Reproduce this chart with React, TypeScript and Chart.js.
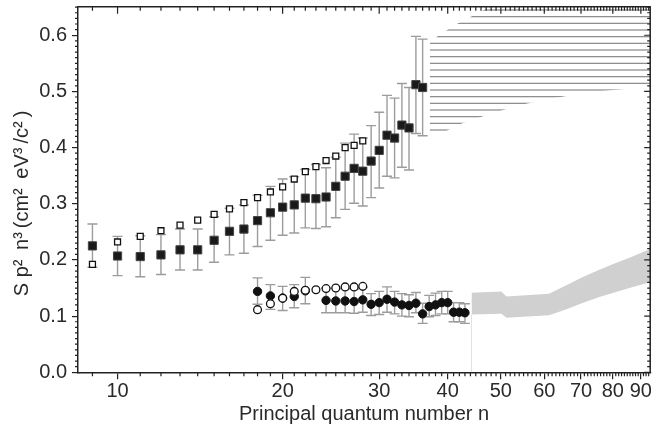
import React, { useEffect, useRef } from 'react';
import { Chart, registerables } from 'chart.js';

Chart.register(...registerables);

const FONT = 'Liberation Sans, Arial, Helvetica, sans-serif';

// Axis ticks
const xTickValues = [10, 20, 30, 40, 50, 60, 70, 80, 90];
const yTickValues = [0, 0.1, 0.2, 0.3, 0.4, 0.5, 0.6];
const xTitle = 'Principal quantum number n';
const yTitle = 'S p\u00B2\u2009 n\u00B3\u2009(cm\u00B2\u2009 eV\u00B3\u2009/c\u00B2\u2009)     ';

// Filled squares with error bars
const nSquares = [9, 10, 11, 12, 13, 14, 15, 16, 17, 18, 19, 20, 21, 22, 23, 24, 25, 26, 27, 28, 29, 30, 31, 32, 33, 34, 35, 36];
const filledSquares = [0.225, 0.207, 0.206, 0.209, 0.218, 0.218, 0.235, 0.251, 0.255, 0.270, 0.284, 0.294, 0.298, 0.310, 0.309, 0.312, 0.331, 0.349, 0.363, 0.358, 0.376, 0.395, 0.422, 0.417, 0.440, 0.435, 0.512, 0.507];
const filledSquaresHigh = [0.264, 0.242, 0.243, 0.245, 0.255, 0.255, 0.277, 0.292, 0.298, 0.315, 0.331, 0.344, 0.348, 0.361, 0.370, 0.364, 0.383, 0.408, 0.424, 0.417, 0.439, 0.463, 0.493, 0.488, 0.514, 0.507, 0.598, 0.593];
const filledSquaresLow = [0.187, 0.172, 0.170, 0.174, 0.182, 0.182, 0.196, 0.209, 0.212, 0.224, 0.235, 0.244, 0.248, 0.257, 0.256, 0.259, 0.275, 0.290, 0.301, 0.296, 0.311, 0.328, 0.349, 0.346, 0.365, 0.360, 0.425, 0.421];

// Open squares
const nOpenSquares = [9, 10, 11, 12, 13, 14, 15, 16, 17, 18, 19, 20, 21, 22, 23, 24, 25, 26, 27, 28];
const openSquares = [0.192, 0.232, 0.242, 0.252, 0.262, 0.271, 0.281, 0.291, 0.302, 0.311, 0.321, 0.330, 0.344, 0.357, 0.366, 0.377, 0.385, 0.400, 0.404, 0.412];

// Filled circles with error bars
const nCircles = [18, 19, 20, 21, 22, 23, 24, 25, 26, 27, 28, 29, 30, 31, 32, 33, 34, 35, 36, 37, 38, 39, 40, 41, 42, 43];
const filledCircles = [0.144, 0.136, 0.132, 0.135, 0.145, null, 0.128, 0.127, 0.127, 0.126, 0.129, 0.121, 0.124, 0.130, 0.125, 0.120, 0.119, 0.123, 0.104, 0.117, 0.120, 0.124, 0.124, 0.107, 0.107, 0.106];
const filledCirclesHigh = [0.168, 0.156, 0.153, 0.156, 0.169, null, 0.150, 0.149, 0.149, 0.148, 0.151, 0.140, 0.144, 0.152, 0.144, 0.140, 0.138, 0.142, 0.123, 0.137, 0.141, 0.144, 0.144, 0.124, 0.124, 0.122];
const filledCirclesLow = [0.121, 0.112, 0.110, 0.115, 0.122, null, 0.106, 0.106, 0.106, 0.105, 0.107, 0.101, 0.103, 0.107, 0.104, 0.100, 0.099, 0.106, 0.087, 0.099, 0.101, 0.104, 0.104, 0.090, 0.090, 0.087];

// Open circles
const nOpenCircles = [18, 19, 20, 21, 22, 23, 24, 25, 26, 27, 28];
const openCircles = [0.1115, 0.122, 0.132, 0.144, 0.146, 0.147, 0.149, 0.150, 0.152, 0.152, 0.153];

// Hatched theory region (upper / lower boundaries)
const hatchUpperN = [37.1, 37.8, 39.5, 41.2, 43.3, 45.7, 50, 60, 75, 93.6];
const hatchUpper = [0.586, 0.594, 0.606, 0.618, 0.629, 0.641, 0.661, 0.69, 0.72, 0.75];
const hatchLowerN = [37.1, 39.6, 41.8, 45.2, 49.4, 54.5, 62.1, 73.8, 93.6];
const hatchLower = [0.4235, 0.4288, 0.4407, 0.4524, 0.4642, 0.4761, 0.4878, 0.4996, 0.5085];

// Grey theory band
const bandN = [44.2, 50.1, 51.2, 61.2, 65.7, 70.4, 75.4, 80.8, 86.7, 93.6];
const bandTop = [0.1416, 0.1439, 0.1350, 0.1398, 0.1545, 0.1692, 0.1823, 0.1940, 0.2058, 0.2195];
const bandBottom = [0.1027, 0.1044, 0.0973, 0.1014, 0.1120, 0.1232, 0.1338, 0.1427, 0.1515, 0.1604];

// Faint vertical marker under the band start
const markerN = [44.2, 44.2];
const markerY = [0, 0.1027];

const pts = (xs: number[], ys: (number | null)[]) => xs.map((x, i) => ({ x, y: ys[i] }));

const errorBarSets = [
  { n: nSquares, low: filledSquaresLow, high: filledSquaresHigh },
  { n: nCircles, low: filledCirclesLow, high: filledCirclesHigh },
];

const errorBarPlugin = {
  id: 'errorBars',
  beforeDatasetsDraw(chart: any) {
    const { ctx, chartArea } = chart;
    const xs = chart.scales.x;
    const ys = chart.scales.y;
    ctx.save();
    ctx.beginPath();
    ctx.rect(chartArea.left, chartArea.top, chartArea.right - chartArea.left, chartArea.bottom - chartArea.top);
    ctx.clip();
    ctx.strokeStyle = '#9c9c9c';
    ctx.lineWidth = 1.4;
    for (const set of errorBarSets) {
      set.n.forEach((n, i) => {
        const lo = set.low[i];
        const hi = set.high[i];
        if (lo == null || hi == null) return;
        const px = xs.getPixelForValue(n);
        const pl = ys.getPixelForValue(lo);
        const ph = ys.getPixelForValue(hi);
        ctx.beginPath();
        ctx.moveTo(px, pl);
        ctx.lineTo(px, ph);
        ctx.moveTo(px - 5, pl);
        ctx.lineTo(px + 5, pl);
        ctx.moveTo(px - 5, ph);
        ctx.lineTo(px + 5, ph);
        ctx.stroke();
      });
    }
    ctx.restore();
  },
};

const framePlugin = {
  id: 'frameTicks',
  afterDraw(chart: any) {
    const { ctx } = chart;
    const { left, right, top, bottom } = chart.chartArea;
    const xs = chart.scales.x;
    const ys = chart.scales.y;
    ctx.save();
    ctx.strokeStyle = '#222';
    ctx.lineWidth = 1.5;
    ctx.beginPath();
    ctx.moveTo(left, top);
    ctx.lineTo(right, top);
    ctx.lineTo(right, bottom);
    ctx.stroke();
    ctx.lineWidth = 1.2;
    ctx.beginPath();
    for (let n = 9; n <= 93; n++) {
      const px = xs.getPixelForValue(n);
      if (px < left || px > right) continue;
      const major = xTickValues.includes(n);
      ctx.moveTo(px, top);
      ctx.lineTo(px, top + (major ? 7 : 4));
      if (!major) {
        ctx.moveTo(px, bottom);
        ctx.lineTo(px, bottom + 4);
      }
    }
    for (let k = 0; k <= 65; k++) {
      const py = ys.getPixelForValue(k / 100);
      if (py < top - 0.5) continue;
      const major = k % 10 === 0;
      ctx.moveTo(right, py);
      ctx.lineTo(right - (major ? 6 : 3), py);
      if (!major) {
        ctx.moveTo(left, py);
        ctx.lineTo(left - 3, py);
      }
    }
    ctx.stroke();
    ctx.restore();
  },
};

function makeHatch(): CanvasPattern | string {
  const c = document.createElement('canvas');
  c.width = 8;
  c.height = 20;
  const g = c.getContext('2d');
  if (!g) return '#999';
  g.fillStyle = '#888888';
  [3.33, 10, 16.67].forEach((yy) => g.fillRect(0, yy - 0.6, 8, 1.2));
  return g.createPattern(c, 'repeat') || '#999';
}

export default function App() {
  const ref = useRef<HTMLCanvasElement | null>(null);

  useEffect(() => {
    document.body.style.margin = '0';
    if (!ref.current) return;
    const hatch = makeHatch();
    const chart = new Chart(ref.current, {
      type: 'line',
      data: {
        datasets: [
          {
            label: 'hatchUpper',
            data: pts(hatchUpperN, hatchUpper),
            borderWidth: 0,
            pointRadius: 0,
            backgroundColor: hatch as any,
            fill: '+1',
            order: 20,
          },
          {
            label: 'hatchLower',
            data: pts(hatchLowerN, hatchLower),
            borderWidth: 0,
            pointRadius: 0,
            fill: false,
            order: 20,
          },
          {
            label: 'bandTop',
            data: pts(bandN, bandTop),
            borderWidth: 0,
            pointRadius: 0,
            backgroundColor: '#d0d0d0',
            fill: '+1',
            order: 20,
          },
          {
            label: 'bandBottom',
            data: pts(bandN, bandBottom),
            borderWidth: 0,
            pointRadius: 0,
            fill: false,
            order: 20,
          },
          {
            label: 'marker',
            data: pts(markerN, markerY),
            borderColor: '#e2e2e2',
            borderWidth: 1,
            pointRadius: 0,
            fill: false,
            order: 19,
          },
          {
            label: 'filledSquares',
            data: pts(nSquares, filledSquares),
            showLine: false,
            pointStyle: 'rect',
            pointRadius: 5.8,
            backgroundColor: '#1a1a1a',
            borderColor: '#444',
            borderWidth: 1,
            order: 3,
          },
          {
            label: 'openSquares',
            data: pts(nOpenSquares, openSquares),
            showLine: false,
            pointStyle: 'rect',
            pointRadius: 4.2,
            backgroundColor: '#ffffff',
            borderColor: '#111',
            borderWidth: 1.3,
            order: 2,
          },
          {
            label: 'filledCircles',
            data: pts(nCircles, filledCircles),
            showLine: false,
            spanGaps: false,
            pointStyle: 'circle',
            pointRadius: 4.2,
            backgroundColor: '#111',
            borderColor: '#111',
            borderWidth: 1,
            order: 3,
          },
          {
            label: 'openCircles',
            data: pts(nOpenCircles, openCircles),
            showLine: false,
            pointStyle: 'circle',
            pointRadius: 3.9,
            backgroundColor: '#ffffff',
            borderColor: '#111',
            borderWidth: 1.3,
            order: 1,
          },
        ],
      },
      options: {
        animation: false,
        responsive: false,
        maintainAspectRatio: false,
        layout: { padding: { left: 0, right: 1.5, top: 4.7, bottom: 0 } },
        plugins: { legend: { display: false }, tooltip: { enabled: false } },
        elements: { line: { tension: 0 } },
        scales: {
          x: {
            type: 'logarithmic',
            min: 8.47,
            max: 93.6,
            afterBuildTicks: (s: any) => {
              s.ticks = xTickValues.map((v) => ({ value: v }));
            },
            afterFit: (s: any) => {
              s.height = 58.7;
              s.paddingLeft = 0;
              s.paddingRight = 0;
            },
            ticks: {
              autoSkip: false,
              maxRotation: 0,
              padding: 0,
              color: '#2a2a2a',
              font: { size: 20, family: FONT },
              callback: (v: any) => String(v),
            },
            grid: { drawOnChartArea: false, drawTicks: true, tickLength: 7, color: '#222', lineWidth: 1.2 },
            border: { display: true, color: '#222', width: 1.5 },
            title: {
              display: true,
              text: xTitle,
              color: '#2a2a2a',
              font: { size: 20, family: FONT },
              padding: { top: 0, bottom: 4.5 },
            },
          },
          y: {
            type: 'linear',
            min: 0,
            max: 0.6506,
            afterBuildTicks: (s: any) => {
              s.ticks = yTickValues.map((v) => ({ value: v }));
            },
            afterFit: (s: any) => {
              s.width = 78;
              s.paddingTop = 0;
              s.paddingBottom = 0;
            },
            ticks: {
              padding: 5,
              color: '#2a2a2a',
              font: { size: 20, family: FONT },
              callback: (v: any) => Number(v).toFixed(1),
            },
            grid: { drawOnChartArea: false, drawTicks: true, tickLength: 6, color: '#222', lineWidth: 1.2 },
            border: { display: true, color: '#222', width: 1.5 },
            title: {
              display: true,
              text: yTitle,
              color: '#2a2a2a',
              font: { size: 20, family: FONT },
              padding: { top: 10.5, bottom: 0 },
            },
          },
        },
      },
      plugins: [errorBarPlugin, framePlugin],
    } as any);
    return () => chart.destroy();
  }, []);

  return (
    <div style={{ width: 657, height: 431 }}>
      <canvas ref={ref} width={657} height={431} style={{ display: 'block' }} />
    </div>
  );
}
